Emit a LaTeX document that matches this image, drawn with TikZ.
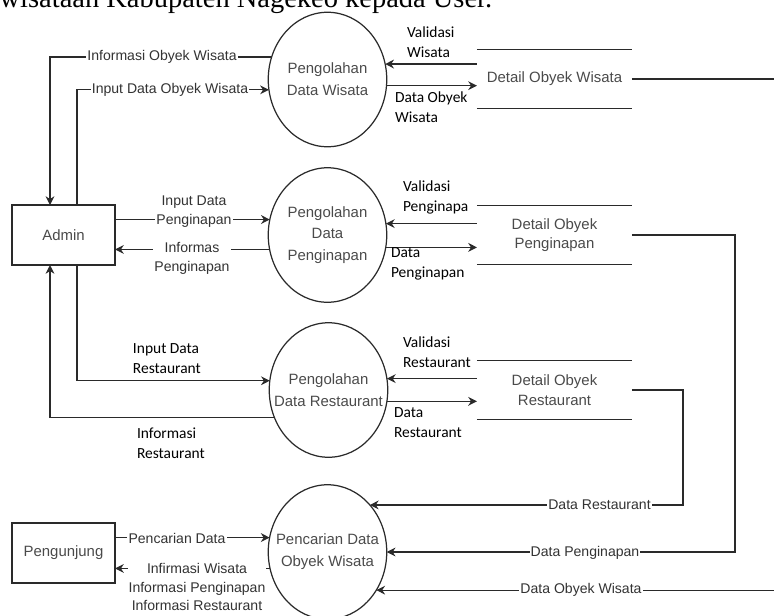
\documentclass[tikz,border=0pt]{standalone}
\usepackage{fontspec}
\setmainfont{Liberation Sans}
\newfontfamily\calibri{Carlito}
\newfontfamily\judulfont{Liberation Serif}
\usetikzlibrary{shapes.geometric,arrows.meta}
\definecolor{nodetxt}{HTML}{4A4A4A}
\definecolor{lbltxt}{HTML}{333333}
\definecolor{garis}{HTML}{2A2A2A}

\begin{document}
\begin{tikzpicture}[scale=0.2,
  proc/.style={draw=garis, ellipse, line width=0.7pt, minimum width=2.37cm, minimum height=2.69cm, inner sep=0pt},
  proctext/.style={align=center, inner sep=0pt, text=nodetxt, font=\fontsize{8.5}{12.4}\selectfont},
  ent/.style={draw=garis, rectangle, line width=0.7pt, minimum width=2.06cm, minimum height=1.2cm, inner sep=0pt, text=nodetxt, font=\fontsize{8.5}{10}\selectfont},
  store/.style={rectangle, minimum width=3.1cm, minimum height=1.17cm, inner sep=0pt, align=center, text=nodetxt, font=\fontsize{8.5}{11}\selectfont},
  flow/.style={draw=garis, line width=0.7pt, -{Stealth[length=5pt,width=5pt]}},
  lbl/.style={align=center, inner sep=0.6pt, fill=white, text=lbltxt, font=\fontsize{8}{10.8}\selectfont},
  clbl/.style={anchor=west, align=left, inner sep=0pt, text=black, font=\calibri\fontsize{8.8}{11.4}\selectfont}]
\tikzstyle{every node}+=[outer sep=0pt]
\useasboundingbox (0,0) rectangle (77.4,-61.5);
\clip (0,0) rectangle (77.4,-61.5);
% teks dokumen yang terpotong di atas
\node [anchor=base east, font=\judulfont\fontsize{16.2}{18}\selectfont] (judul) at (49.8,-0.7) {wisataan Kabupaten Nagekeo kepada User.};
% entitas luar
\node [ent] (admin) at (6.35,-23.5) {Admin};
\node [ent] (pengunjung) at (6.35,-55.3) {Pengunjung};
% proses
\node [proc, label={[proctext]center:Pengolahan\\Data Wisata}] (p1) at (32.75,-7.95) {};
\node [proc, label={[proctext]center:Pengolahan\\Data\\Penginapan}] (p2) at (32.75,-23.5) {};
\node [proc, label={[proctext]center:Pengolahan\\Data Restaurant}] (p3) at (32.85,-39.0) {};
\node [proc, label={[proctext]center:Pencarian Data\\Obyek Wisata}] (p4) at (32.75,-55.2) {};
% data store
\node [store] (dw) at (55.45,-7.9) {Detail Obyek Wisata};
\node [store] (dp) at (55.45,-23.5) {Detail Obyek\\Penginapan};
\node [store] (dr) at (55.45,-39.0) {Detail Obyek\\Restaurant};
\draw [garis, line width=0.7pt] (dw.north west) -- (dw.north east) (dw.south west) -- (dw.south east);
\draw [garis, line width=0.7pt] (dp.north west) -- (dp.north east) (dp.south west) -- (dp.south east);
\draw [garis, line width=0.7pt] (dr.north west) -- (dr.north east) (dr.south west) -- (dr.south east);
% titik belok
\coordinate (kA) at (5.0,-23.5);
\coordinate (kB) at (7.7,-23.5);
\coordinate (kR) at (68.3,-39.0);
\coordinate (kP) at (73.5,-23.5);
\coordinate (kW) at (80.0,-7.9);
% aliran admin
\draw [flow] (p1.158) -| (kA |- admin.north);
\draw [flow] (kB |- admin.north) |- (p1.190);
\draw [flow] (admin.east |- p2.165) -- (p2.165);
\draw [flow] (p2.194) -- (admin.east |- p2.194);
\draw [flow] (kB |- admin.south) |- (p3.171);
\draw [flow] (p3.207) -| (kA |- admin.south);
% aliran data store
\draw [flow] (dw.west |- p1.15) -- (p1.15);
\draw [flow] (p1.-6) -- (dw.west |- p1.-6);
\draw [flow] (dp.west |- p2.11) -- (p2.11);
\draw [flow] (p2.-12) -- (dp.west |- p2.-12);
\draw [flow] (dr.west |- p3.11) -- (p3.11);
\draw [flow] (p3.-11) -- (dr.west |- p3.-11);
\draw [flow] (dr.east) -| (kR |- p4.48) -- (p4.48);
\draw [flow] (dp.east) -| (kP |- p4.0) -- (p4.0);
\draw [flow] (dw.east) -| (kW |- p4.-38) -- (p4.-38);
% aliran pengunjung
\draw [flow] (pengunjung.east |- p4.166) -- (p4.166);
\draw [flow] (p4.196) -- (pengunjung.east |- p4.196);
% label aliran
\node [lbl] (l1) at (16.2,-5.7) {Informasi Obyek Wisata};
\node [lbl] (l2) at (17.0,-9.0) {Input Data Obyek Wisata};
\node [clbl] (l3) at (40.7,-4.2) {Validasi\\Wisata};
\node [clbl] (l4) at (39.5,-10.75) {Data Obyek\\Wisata};
\node [lbl] (l5) at (19.4,-21.15) {Input Data\\Penginapan};
\node [lbl] (l6) at (19.2,-25.85) {Informas\\Penginapan};
\node [clbl] (l7) at (40.3,-19.7) {Validasi\\Penginapa};
\node [clbl] (l8) at (39.1,-26.35) {Data\\Penginapan};
\node [clbl] (l9) at (13.3,-35.85) {Input Data\\Restaurant};
\node [clbl] (l10) at (13.7,-44.3) {Informasi\\Restaurant};
\node [clbl] (l11) at (40.3,-35.25) {Validasi\\Restaurant};
\node [clbl] (l12) at (39.4,-42.25) {Data\\Restaurant};
\node [lbl] (l13) at (59.95,-50.5) {Data Restaurant};
\node [lbl] (l14) at (58.5,-55.3) {Data Penginapan};
\node [lbl] (l15) at (58.1,-59.0) {Data Obyek Wisata};
\node [lbl] (l16) at (17.7,-53.8) {Pencarian Data};
\node [lbl, font=\fontsize{8}{10.5}\selectfont] (l17) at (19.7,-58.7) {Infirmasi Wisata\\Informasi Penginapan\\Informasi Restaurant};
\end{tikzpicture}
\end{document}
